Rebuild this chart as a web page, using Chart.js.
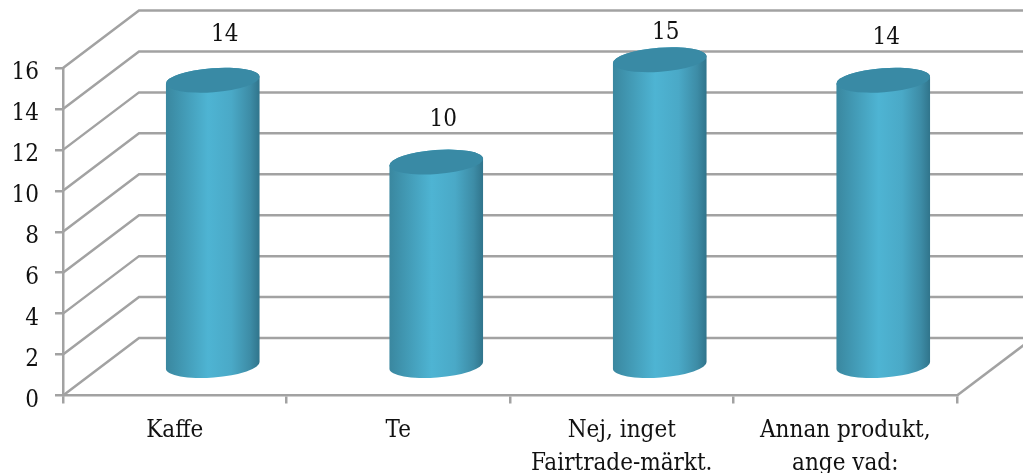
<!DOCTYPE html>
<html>
<head>
<meta charset="utf-8">
<title>Fairtrade</title>
<script src="https://cdn.jsdelivr.net/npm/chart.js@4"></script>
<style>
    html, body { margin: 0; padding: 0; background: #fff; overflow: hidden; }
    canvas { display: block; }
</style>
</head>
<body>
<canvas id="mainChart" width="1023" height="473"></canvas>
<script>
// Data
const categories = ['Kaffe', 'Te', ['Nej, inget', 'Fairtrade-märkt.'], ['Annan produkt,', 'ange vad:']];
const values = [14, 10, 15, 14];
const yTicks = [0, 2, 4, 6, 8, 10, 12, 14, 16];

// --- Look of the fake 3D box ---
const FONT = '"DejaVu Serif Condensed", "DejaVu Serif"';
const FONT_SIZE = 24;
const LINE_COLOR = '#a2a2a2';
const DEPTH_X = 76;     // how far the back wall sits from the front axis
const DEPTH_Y = 57.5;
const TILT = -0.075;    // ellipses lean slightly, right side up
const CAP_RY = 12;
const labelShift = [[12, -45], [7, -42], [6, -27], [3, -42]]; // value labels sit by hand, relative to the cap

const wallPlugin = {
    id: 'wall',
    beforeDatasetsDraw(chart) {
        const { ctx, scales: { x, y } } = chart;
        const width = chart.width;
        ctx.save();
        ctx.strokeStyle = LINE_COLOR;
        ctx.lineWidth = 2.5;
        y.ticks.forEach(t => {
            const py = y.getPixelForValue(t.value);
            ctx.beginPath();
            ctx.moveTo(x.left, py);
            ctx.lineTo(x.left + DEPTH_X, py - DEPTH_Y);
            ctx.lineTo(width, py - DEPTH_Y);
            ctx.stroke();
        });
        // right edge of the floor
        ctx.beginPath();
        ctx.moveTo(x.right, y.bottom);
        ctx.lineTo(x.right + DEPTH_X, y.bottom - DEPTH_Y);
        ctx.stroke();
        ctx.restore();
    }
};

const cylinderPlugin = {
    id: 'cylinders',
    afterDatasetsDraw(chart) {
        const { ctx } = chart;
        const bars = chart.getDatasetMeta(0).data;
        bars.forEach((bar, i) => {
            // bars stand in the middle of the floor depth
            const cx = bar.x + DEPTH_X / 2;
            const topY = bar.y - DEPTH_Y / 2;
            const baseY = bar.base - DEPTH_Y / 2;
            const rx = bar.width / 2;

            const grad = ctx.createLinearGradient(cx - rx, 0, cx + rx, 0);
            grad.addColorStop(0, '#3a879f');
            grad.addColorStop(0.12, '#3f93ad');
            grad.addColorStop(0.45, '#4eb4d3');
            grad.addColorStop(0.7, '#4aa9c7');
            grad.addColorStop(0.9, '#3d8ca6');
            grad.addColorStop(1, '#30748b');

            ctx.save();
            ctx.beginPath();
            ctx.ellipse(cx, baseY, rx, CAP_RY, TILT, 0, Math.PI);
            ctx.ellipse(cx, topY, rx, CAP_RY, TILT, Math.PI, 0);
            ctx.closePath();
            ctx.fillStyle = grad;
            ctx.fill();

            ctx.beginPath();
            ctx.ellipse(cx, topY, rx, CAP_RY, TILT, 0, Math.PI * 2);
            ctx.fillStyle = '#398aa5';
            ctx.fill();

            ctx.fillStyle = '#111';
            ctx.font = FONT_SIZE + 'px ' + FONT;
            ctx.textAlign = 'center';
            ctx.textBaseline = 'middle';
            ctx.fillText(String(values[i]), cx + labelShift[i][0], topY + labelShift[i][1]);
            ctx.restore();
        });
    }
};

new Chart(document.getElementById('mainChart'), {
    type: 'bar',
    data: {
        labels: categories,
        datasets: [{
            data: values,
            backgroundColor: 'transparent',
            borderWidth: 0,
            barPercentage: 0.42,
            categoryPercentage: 1
        }]
    },
    options: {
        responsive: false,
        animation: false,
        layout: { padding: { top: 68, right: 66, left: 0, bottom: 0 } },
        plugins: {
            legend: { display: false },
            title: { display: false },
            tooltip: { enabled: false }
        },
        scales: {
            y: {
                min: 0,
                max: 16,
                afterBuildTicks: scale => { scale.ticks = yTicks.map(v => ({ value: v })); },
                afterFit: scale => { scale.width = 63; },
                border: { color: LINE_COLOR, width: 2.5 },
                grid: { drawOnChartArea: false, color: LINE_COLOR, lineWidth: 2.5, tickLength: 8 },
                ticks: {
                    color: '#111',
                    padding: 16,
                    // empty first line pushes the number down a little from its tick
                    callback: v => ['', String(v)],
                    font: { family: FONT, size: FONT_SIZE, lineHeight: 0.42 }
                }
            },
            x: {
                afterFit: scale => { scale.height = 77.5; },
                border: { color: LINE_COLOR, width: 2.5 },
                grid: { drawOnChartArea: false, color: LINE_COLOR, lineWidth: 2.5, tickLength: 8 },
                ticks: {
                    color: '#111',
                    padding: 11,
                    maxRotation: 0,
                    autoSkip: false,
                    font: { family: FONT, size: FONT_SIZE, lineHeight: 1.38 }
                }
            }
        }
    },
    plugins: [wallPlugin, cylinderPlugin]
});
</script>
</body>
</html>
